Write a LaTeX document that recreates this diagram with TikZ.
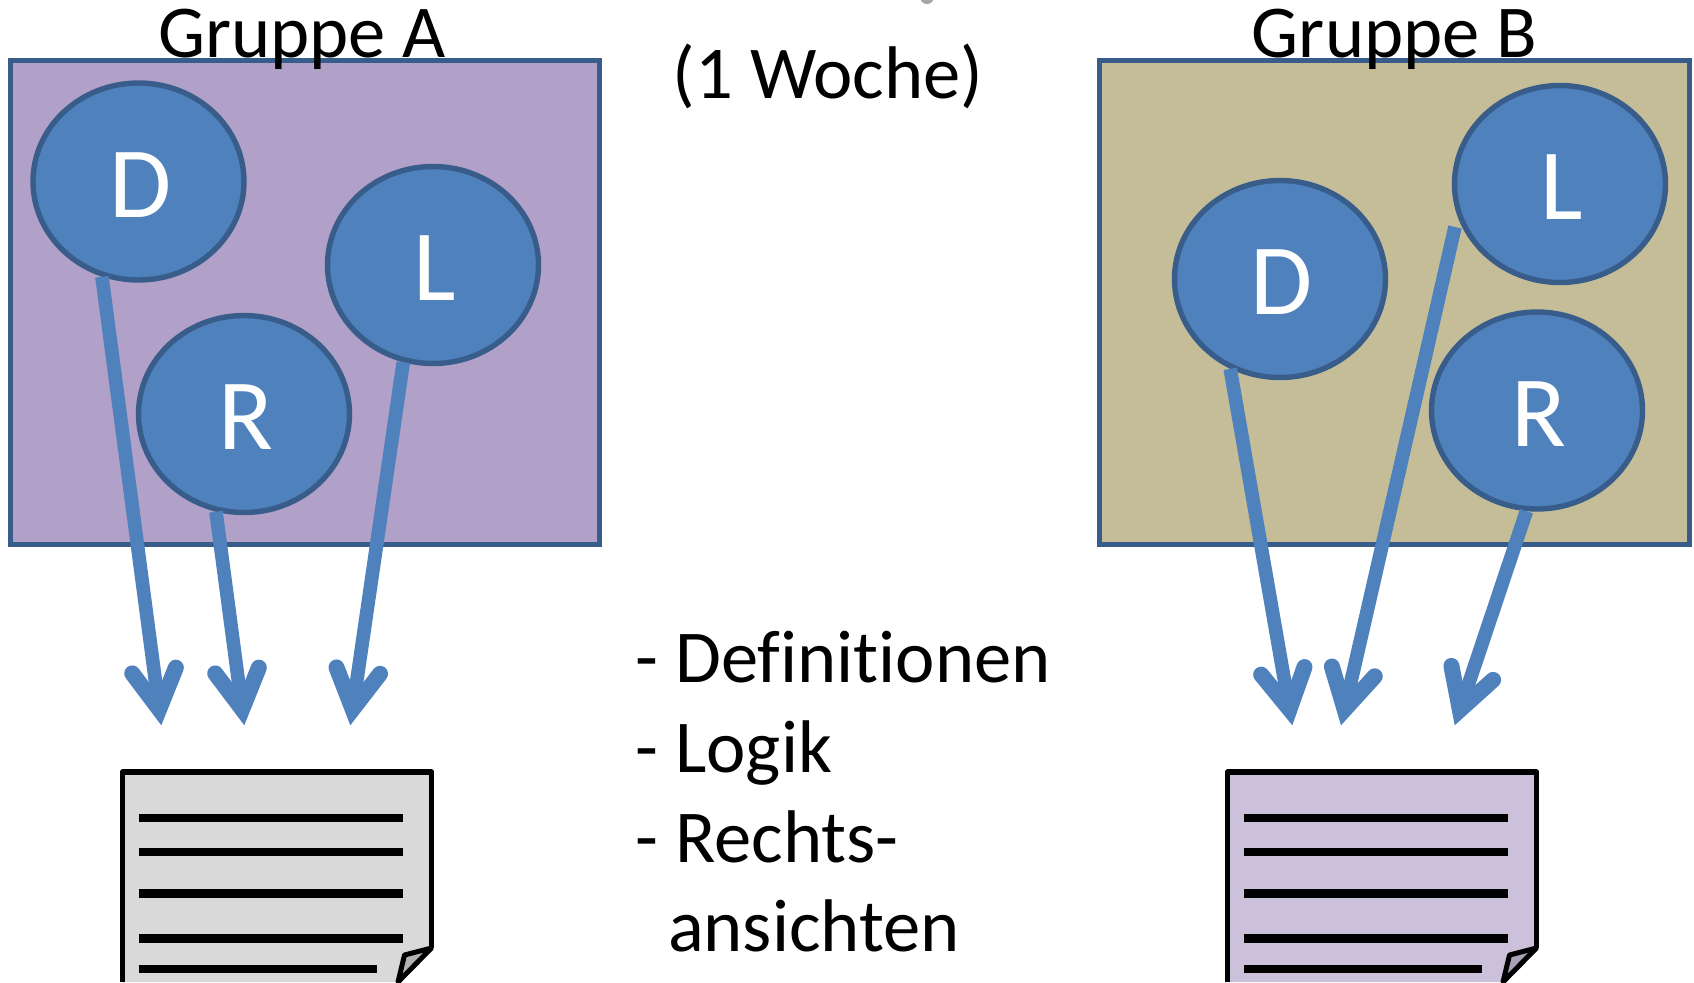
\documentclass[tikz,border=0pt]{standalone}
\usepackage{fontspec}
\setmainfont[Ligatures=NoCommon]{Carlito}
\usetikzlibrary{arrows.meta}
\usetikzlibrary{shapes.geometric}

\definecolor{groupa}{HTML}{B1A0C7}
\definecolor{groupb}{HTML}{C4BD97}
\definecolor{rimblue}{HTML}{385D8A}
\definecolor{roleblue}{HTML}{4F81BD}

\tikzset{
  groupbox/.style={draw=rimblue, line width=2.5pt, rectangle, inner sep=0pt, minimum width=294.5pt, minimum height=242pt},
  role/.style={draw=rimblue, fill=roleblue, line width=2.7pt, ellipse, inner sep=0pt, minimum width=105.5pt, minimum height=98.5pt, text=white, font=\fontsize{50.5}{60}\selectfont, text height=35.7pt, text depth=0pt, execute at begin node=\hspace{2pt}},
  grouplabel/.style={font=\fontsize{37.3}{42}\selectfont, anchor=base},
  listlabel/.style={font=\fontsize{37.3}{42}\selectfont, anchor=base west},
  handin/.style={draw=roleblue, line width=6.8pt, -{Straight Barb[length=19.5pt,width=22pt,line width=8pt,line cap=round,line join=miter]}},
}

\begin{document}
\begin{tikzpicture}[x=0.5pt, y=-0.5pt]
  \useasboundingbox (0,0) rectangle (1694,982);
  \fill[gray!70] (927,-3) circle (7);

  % the two groups
  \node [groupbox, fill=groupa] (boxa) at (305,302.5) {};
  \node [groupbox, fill=groupb, minimum width=295pt] (boxb) at (1394,302.5) {};
  \node [grouplabel] (titlea) at (302,57.5) {Gruppe A};
  \node [grouplabel] (titleb) at (1394.5,57.5) {Gruppe B};
  \node [grouplabel] (week) at (828,98.5) {(1 Woche)};

  \node [role] (da) at (138.5,181.5) {D};
  \node [role] (la) at (433,265) {L};
  \node [role] (ra) at (244,414) {R};
  \node [role] (db) at (1280,279) {D};
  \node [role] (lb) at (1560,184) {L};
  \node [role] (rb) at (1537,410.5) {R};

  \coordinate (tiplbtail) at (1455,227);
  \coordinate (tipda) at (161.3,725.3);
  \coordinate (tipra) at (244.3,725.3);
  \coordinate (tipla) at (350.3,725.3);
  \coordinate (tipdb) at (1292.3,725.3);
  \coordinate (tiplb) at (1341,725.3);
  \coordinate (tiprb) at (1454.7,725.3);

  \draw [handin] (da.249) -- (tipda);
  \draw [handin] (ra.254) -- (tipra);
  \draw [handin] (la.253) -- (tipla);
  \draw [handin] (db.241) -- (tipdb);
  \draw [handin] (tiplbtail) -- (tiplb);
  \draw [handin] (rb.264) -- (tiprb);

  % the two papers
  \foreach \docx/\docfill/\foldfill in {0/D9D9D9/B2B2B2, 1105/CCC1DA/A9A0B5} {
    \begin{scope}[shift={(\docx,0)}]
      \definecolor{docfill}{HTML}{\docfill}
      \definecolor{foldfill}{HTML}{\foldfill}
      \fill [docfill] (122.5,772) -- (431.5,772) -- (431.5,947) -- (398,982) -- (122.5,982) -- cycle;
      \foreach \liney/\lineend in {817.7/403.3, 852/403.3, 893.3/403.3, 938.3/403.3, 968.7/376.7}
        \draw [line width=4.2pt] (138.7,\liney) -- (\lineend,\liney);
      \draw [line width=2.5pt, line join=round, fill=foldfill] (431.5,948) -- (404.5,955) -- (398,982) -- cycle;
      \draw [line width=2.8pt, line join=round] (122.5,982) -- (122.5,772) -- (431.5,772) -- (431.5,948);
    \end{scope}
  }

  % what the papers hold
  \node [listlabel] (defs) at (628.5,682.6) {- Definitionen};
  \node [listlabel] (logic) at (628.5,772) {- Logik};
  \node [listlabel] (views) at (628.5,862.5) {- Rechts-};
  \node [listlabel] (viewsend) at (661,951.5) {ansichten};
\end{tikzpicture}
\end{document}
